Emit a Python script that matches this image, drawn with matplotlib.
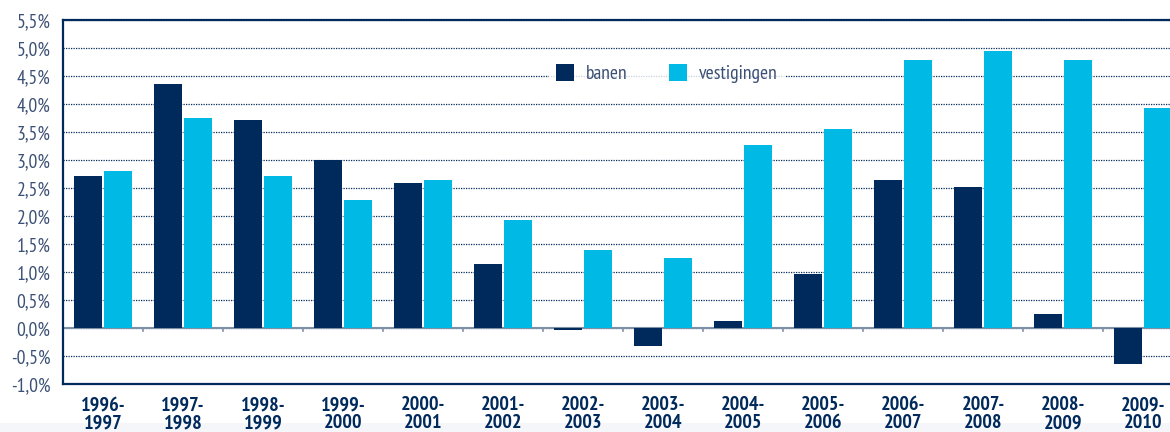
import numpy as np
import matplotlib
matplotlib.use("Agg")
import matplotlib.pyplot as plt
from matplotlib.patches import Rectangle
from matplotlib.ticker import MultipleLocator, FuncFormatter

periods = ["1996-\n1997", "1997-\n1998", "1998-\n1999", "1999-\n2000", "2000-\n2001",
           "2001-\n2002", "2002-\n2003", "2003-\n2004", "2004-\n2005", "2005-\n2006",
           "2006-\n2007", "2007-\n2008", "2008-\n2009", "2009-\n2010"]
banen = [2.71, 4.36, 3.71, 3.00, 2.59, 1.14, -0.04, -0.33, 0.13, 0.96, 2.64, 2.52, 0.25, -0.65]
vestigingen = [2.80, 3.75, 2.71, 2.29, 2.64, 1.93, 1.39, 1.25, 3.27, 3.55, 4.79, 4.95, 4.79, 3.93]

navy = "#002a5c"
cyan = "#00b9e4"
label_col = "#3b5075"

plt.rcParams["font.family"] = ["PT Sans Narrow", "DejaVu Sans"]

fig = plt.figure(figsize=(11.7, 4.32), dpi=100)
# faint strip along the bottom edge of the page
fig.patches.append(Rectangle((0, 0), 1, 9 / 432, transform=fig.transFigure,
                             facecolor="#f5f6f9", edgecolor="none", zorder=-5))
ax = fig.add_axes([63 / 1170, 48 / 432, 1120 / 1170, 364 / 432])

x = np.arange(len(periods))
w = 0.35
ax.bar(x - w / 2 - 0.012, banen, w, color=navy, label="banen", zorder=3)
ax.bar(x + w / 2 + 0.012, vestigingen, w, color=cyan, label="vestigingen", zorder=3)

ax.set_xlim(-0.5, len(periods) - 0.5)
ax.set_ylim(-1.0, 5.5)
ax.yaxis.set_major_locator(MultipleLocator(0.5))
ax.yaxis.set_major_formatter(FuncFormatter(lambda v, p: f"{v:.1f}%".replace(".", ",")))
ax.tick_params(axis="y", length=0, labelsize=14, labelcolor=label_col, pad=9)

ax.set_xticks(x)
ax.set_xticklabels(periods, fontweight="bold", fontsize=14.5, color=navy, linespacing=1.0)
ax.tick_params(axis="x", length=0, pad=9)

# dotted grid, solid zero line
ax.yaxis.grid(True, linestyle=(0, (1, 1.0)), color=navy, linewidth=0.9, zorder=0)
ax.axhline(0, color="#7f8fa6", linewidth=1.5, zorder=2)
# small ticks on the zero line between groups
for b in x[:-1] + 0.5:
    ax.plot([b, b], [0, -0.06], color="#7f8fa6", linewidth=1.2, zorder=2)

for s in ["left", "bottom", "top"]:
    ax.spines[s].set_color(navy)
    ax.spines[s].set_linewidth(1.6)
ax.spines["right"].set_visible(False)

leg = ax.legend(loc="center", bbox_to_anchor=(0.539, 0.852), ncol=2, frameon=True,
                fontsize=14, handlelength=0.95, handleheight=0.95, columnspacing=2.1,
                handletextpad=0.6, borderpad=0.35, fancybox=False)
leg.get_frame().set_facecolor("white")
leg.get_frame().set_edgecolor("white")
leg.set_zorder(4)
for t in leg.get_texts():
    t.set_color(label_col)

fig.savefig("out.png", dpi=100)
